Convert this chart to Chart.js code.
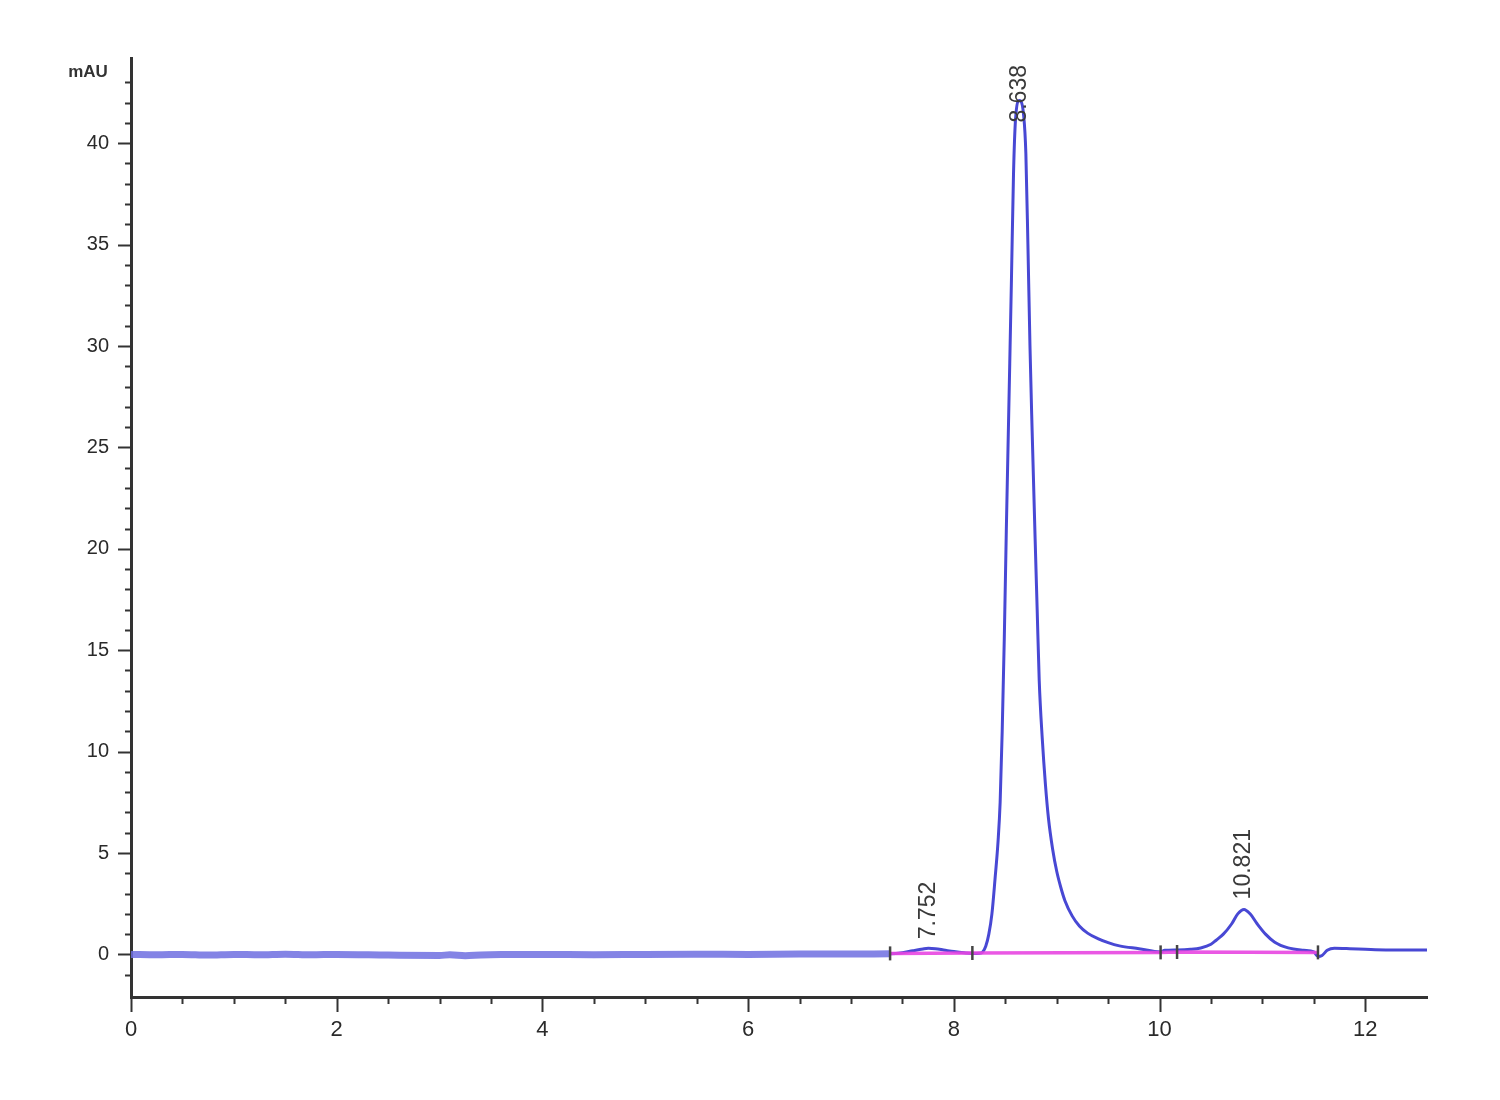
<!DOCTYPE html>
<html><head><meta charset="utf-8">
<script src="https://cdn.jsdelivr.net/npm/chart.js@4.4.1/dist/chart.umd.min.js"></script>
<style>html,body{margin:0;padding:0;background:#fff;}#wrap{width:1500px;height:1100px;position:relative;}</style>
</head><body><div id="wrap"><canvas id="c"></canvas></div>
<script>
// ---- data (retention time in min, absorbance in mAU) ----
const traceTime = [0.00,0.25,0.50,0.75,1.00,1.25,1.50,1.75,2.00,2.50,3.00,3.10,3.25,3.40,3.60,4.00,4.50,5.00,5.50,6.00,6.50,7.00,
  7.38,7.50,7.60,7.70,7.752,7.82,7.90,8.00,8.10,8.18,8.25,
  8.28,8.31,8.34,8.37,8.40,8.43,8.45,8.47,8.49,8.51,8.54,8.56,8.58,8.60,8.638,8.68,8.70,8.72,8.74,8.76,8.79,8.81,8.83,8.86,8.89,8.92,8.96,9.00,9.04,9.08,9.15,9.22,9.30,9.40,9.50,9.61,9.80,
  10.01,10.05,10.17,10.30,10.40,10.50,10.55,10.62,10.70,10.76,10.821,10.88,10.95,11.03,11.12,11.25,11.40,11.50,
  11.54,11.58,11.63,11.70,11.85,12.00,12.20,12.40,12.60];
const traceSignal = [0.00,-0.02,0.00,-0.03,0.00,-0.02,0.01,-0.02,0.00,-0.03,-0.05,-0.02,-0.06,-0.03,-0.01,0.00,-0.02,0.00,0.01,0.00,0.02,0.02,
  0.03,0.08,0.18,0.27,0.30,0.28,0.22,0.14,0.08,0.05,0.06,
  0.12,0.40,1.00,2.00,3.70,5.60,7.50,11.0,15.5,20.9,28.3,33.3,38.5,41.2,42.1,41.3,39.5,35.0,30.0,26.0,20.5,17.0,13.5,10.6,8.40,6.70,5.20,4.10,3.30,2.65,1.90,1.40,1.05,0.78,0.58,0.42,0.28,
  0.12,0.20,0.22,0.25,0.32,0.50,0.70,1.00,1.50,2.00,2.22,2.00,1.50,1.00,0.60,0.32,0.20,0.12,
  -0.10,-0.05,0.20,0.30,0.28,0.25,0.22,0.22,0.22];
const baselineTime = [7.38, 8.18, 10.01, 10.17, 11.54];
const baselineSignal = [0.05, 0.07, 0.10, 0.12, 0.10];
const eventTime = [7.38, 8.18, 10.01, 10.17, 11.54];
const eventSignal = [0.05, 0.07, 0.10, 0.12, 0.10];
const peakTimes = [7.752, 8.638, 10.821];
const peakHeights = [0.30, 42.1, 2.22];
const peakLabels = ['7.752', '8.638', '10.821'];
const xMajorTicks = [0, 2, 4, 6, 8, 10, 12];
const yMajorTicks = [0, 5, 10, 15, 20, 25, 30, 35, 40];
const yUnit = 'mAU';

const xy = (xs, ys) => xs.map((x, i) => ({x: x, y: ys[i]}));
const isMult = (v, s) => Math.abs(v / s - Math.round(v / s)) < 1e-6;

const tickPlugin = {
  id: 'tickMarks',
  afterDraw(chart) {
    const ctx = chart.ctx, xs = chart.scales.x, ys = chart.scales.y, ca = chart.chartArea;
    ctx.save();
    ctx.strokeStyle = '#333'; ctx.lineWidth = 2;
    ys.ticks.forEach(t => {
      if (!isMult(t.value, 1)) return;
      const p = Math.round(ys.getPixelForValue(t.value)) + 0.5;
      const len = yMajorTicks.includes(Math.round(t.value)) ? 13 : 6;
      ctx.beginPath(); ctx.moveTo(ca.left, p); ctx.lineTo(ca.left - len, p); ctx.stroke();
    });
    xs.ticks.forEach(t => {
      if (!isMult(t.value, 0.5)) return;
      const p = Math.round(xs.getPixelForValue(t.value)) + 0.5;
      const len = isMult(t.value, 2) ? 15 : 7;
      ctx.beginPath(); ctx.moveTo(p, ca.bottom); ctx.lineTo(p, ca.bottom + len); ctx.stroke();
    });
    // unit label
    ctx.fillStyle = '#333';
    ctx.font = 'bold 17px "Liberation Sans", Arial, sans-serif';
    ctx.textAlign = 'center'; ctx.textBaseline = 'middle';
    ctx.fillText(yUnit, ca.left - 43, ca.top + 14);
    // peak labels
    const offs = chart.options.plugins.tickMarks.labelOffsets;
    ctx.font = '23px "Liberation Sans", Arial, sans-serif';
    ctx.fillStyle = '#3a3a3a';
    peakLabels.forEach((lab, i) => {
      const px = xs.getPixelForValue(peakTimes[i]);
      const py = ys.getPixelForValue(peakHeights[i]) - offs[i];
      ctx.save(); ctx.translate(px, py); ctx.rotate(-Math.PI / 2);
      ctx.textAlign = 'left'; ctx.textBaseline = 'middle';
      ctx.fillText(lab, 0, 0); ctx.restore();
    });
    ctx.restore();
  }
};

new Chart(document.getElementById('c'), {
  type: 'scatter',
  data: {
    datasets: [
      {data: xy(eventTime, eventSignal), showLine: false, pointStyle: 'line', rotation: 90, pointRadius: 7,
       borderColor: '#444', borderWidth: 2.5, order: 0},
      {data: xy(baselineTime, baselineSignal), showLine: true, pointRadius: 0, borderColor: 'rgba(232,70,225,0.9)',
       borderWidth: 3.5, tension: 0, order: 1},
      {data: xy(traceTime, traceSignal), showLine: true, pointRadius: 0, borderColor: '#4848d4', borderWidth: 3,
       cubicInterpolationMode: 'monotone', order: 2,
       segment: {
         borderWidth: c => c.p0.parsed.x < 7.3 ? 7 : 3,
         borderColor: c => c.p0.parsed.x < 7.3 ? 'rgba(110,110,225,0.85)' : '#4848d4'
       }}
    ]
  },
  options: {
    responsive: true, maintainAspectRatio: false, animation: false,
    layout: {padding: {top: 58, right: 73, left: 0, bottom: 0}},
    plugins: {legend: {display: false}, tooltip: {enabled: false}, tickMarks: {labelOffsets: [9, -22, 10]}},
    scales: {
      x: {
        type: 'linear', min: 0, max: 12.6,
        afterFit: s => { s.height = 103; },
        grid: {display: true, drawOnChartArea: false, drawTicks: false},
        border: {display: true, color: '#333', width: 3},
        ticks: {stepSize: 0.5, autoSkip: false, maxRotation: 0, padding: 20, color: '#2a2a2a',
          font: {family: '"Liberation Sans", Arial, sans-serif', size: 22},
          callback: v => xMajorTicks.some(m => Math.abs(m - v) < 1e-6) ? String(Math.round(v)) : ''}
      },
      y: {
        type: 'linear', min: -2.1, max: 44.2,
        afterFit: s => { s.width = 131; },
        grid: {display: true, drawOnChartArea: false, drawTicks: false},
        border: {display: true, color: '#333', width: 3},
        ticks: {stepSize: 1, autoSkip: false, padding: 22, color: '#2a2a2a',
          font: {family: '"Liberation Sans", Arial, sans-serif', size: 20},
          callback: v => yMajorTicks.some(m => Math.abs(m - v) < 1e-6) ? String(Math.round(v)) : ''}
      }
    }
  },
  plugins: [tickPlugin]
});
</script></body></html>
